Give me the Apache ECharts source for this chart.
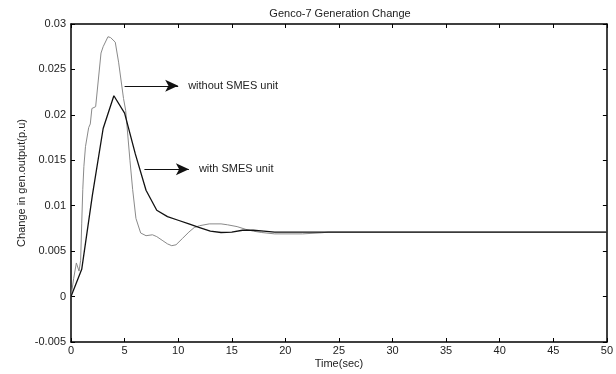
<!DOCTYPE html>
<html>
<head>
<meta charset="utf-8">
<script src="https://cdn.jsdelivr.net/npm/echarts@6/dist/echarts.min.js"></script>
<style>html,body{margin:0;padding:0;background:#fff}#c{width:616px;height:374px}</style>
</head>
<body>
<div id="c"></div>
<script>
var titleText = 'Genco-7 Generation Change';
var xName = 'Time(sec)';
var yName = 'Change in gen.output(p.u)';
var xTicks = [0, 5, 10, 15, 20, 25, 30, 35, 40, 45, 50];
var yTicks = [-0.005, 0, 0.005, 0.01, 0.015, 0.02, 0.025, 0.03];

// without SMES unit (gray)
var grayT = [0, 0.25, 0.5, 0.6, 0.75, 0.9, 1.0, 1.1, 1.2, 1.35, 1.65, 1.8, 1.95, 2.3, 2.8, 3.0, 3.45, 3.7, 4.13, 4.44, 4.9, 5.1, 5.5, 5.75, 6.06, 6.5, 7.0, 7.6, 8.0, 8.5, 9.0, 9.4, 9.8, 10.4, 11.0, 11.5, 12.0, 12.9, 14.0, 14.6, 15.5, 16.3, 17.0, 17.8, 19.0, 21.6, 23.4, 24, 50];
var grayY = [0, 0.002, 0.0037, 0.0035, 0.0028, 0.0040, 0.0080, 0.0118, 0.0143, 0.0165, 0.0186, 0.0190, 0.0207, 0.0209, 0.0268, 0.0275, 0.0286, 0.0285, 0.0280, 0.0258, 0.0218, 0.0205, 0.0150, 0.0118, 0.0086, 0.0070, 0.0067, 0.0068, 0.0066, 0.0062, 0.0058, 0.0056, 0.0057, 0.0064, 0.0071, 0.0076, 0.0078, 0.0080, 0.0080, 0.0079, 0.0077, 0.0074, 0.0072, 0.00705, 0.0069, 0.0069, 0.00702, 0.0071, 0.0071];

// with SMES unit (black)
var blackT = [0, 1, 2, 3, 4, 5, 6, 7, 8, 9, 10, 11, 12, 13, 14, 15, 16, 17, 18, 19, 20, 25, 30, 35, 40, 45, 50];
var blackY = [0, 0.0030, 0.0112, 0.0185, 0.0221, 0.0202, 0.0157, 0.0117, 0.0095, 0.0088, 0.0084, 0.0080, 0.0076, 0.0072, 0.00705, 0.0071, 0.0073, 0.0073, 0.0072, 0.0071, 0.0071, 0.0071, 0.0071, 0.0071, 0.0071, 0.0071, 0.0071];

// annotations
var annoText = ['without SMES unit', 'with SMES unit'];
var annoFrom = [[5.0, 0.0232], [6.85, 0.0140]];
var annoTo = [[10.0, 0.0232], [11.0, 0.0140]];

function zip(a, b) { return a.map(function (v, i) { return [v, b[i]]; }); }

var font = 'Liberation Sans, Arial, sans-serif';
var chart = echarts.init(document.getElementById('c'), null, { renderer: 'canvas' });

var tickStyle = { show: true, inside: true, length: 4, lineStyle: { color: '#000', width: 1 } };
var lineStyleAxis = { show: true, onZero: false, lineStyle: { color: '#000', width: 1.5 } };

var option = {
  animation: false,
  backgroundColor: '#fff',
  title: {
    text: titleText, left: 340, top: 8, textAlign: 'center', padding: 0,
    textStyle: { fontFamily: font, fontSize: 11, fontWeight: 'normal', color: '#222' }
  },
  grid: { left: 71, right: 7.2, top: 24, bottom: 24, containLabel: false },
  xAxis: [{
    type: 'value', min: 0, max: 50, interval: 5, position: 'bottom',
    name: xName, nameLocation: 'middle', nameGap: 16, nameMoveOverlap: false,
    nameTextStyle: { fontFamily: font, fontSize: 11, color: '#222', verticalAlign: 'top' },
    axisLine: lineStyleAxis, axisTick: tickStyle, splitLine: { show: false },
    axisLabel: { fontFamily: font, fontSize: 11, color: '#222', margin: 3 }
  }, {
    type: 'value', min: 0, max: 50, interval: 5, position: 'top',
    axisLine: lineStyleAxis, axisTick: tickStyle, splitLine: { show: false },
    axisLabel: { show: false }
  }],
  yAxis: [{
    type: 'value', min: -0.005, max: 0.03, interval: 0.005, position: 'left',
    name: yName, nameLocation: 'middle', nameGap: 44, nameRotate: 90, nameMoveOverlap: false,
    nameTextStyle: { fontFamily: font, fontSize: 11, color: '#222' },
    axisLine: lineStyleAxis, axisTick: tickStyle, splitLine: { show: false },
    axisLabel: { fontFamily: font, fontSize: 11, color: '#222', margin: 5,
      formatter: function (v) { return String(Math.round(v * 1000) / 1000); } }
  }, {
    type: 'value', min: -0.005, max: 0.03, interval: 0.005, position: 'right',
    axisLine: lineStyleAxis, axisTick: tickStyle, splitLine: { show: false },
    axisLabel: { show: false }
  }],
  series: [{
    name: 'without SMES unit', type: 'line', data: zip(grayT, grayY),
    showSymbol: false, symbol: 'none', smooth: false,
    lineStyle: { color: '#8a8a8a', width: 1 }, z: 2
  }, {
    name: 'with SMES unit', type: 'line', data: zip(blackT, blackY),
    showSymbol: false, symbol: 'none', smooth: false,
    lineStyle: { color: '#111', width: 1.3 }, z: 3,
    markLine: {
      silent: true, symbol: ['none', 'arrow'], symbolSize: [9, 13],
      lineStyle: { color: '#111', width: 1, type: 'solid' },
      label: { show: false },
      data: annoFrom.map(function (f, i) { return [{ coord: f }, { coord: annoTo[i] }]; })
    },
    markPoint: {
      silent: true, symbol: 'circle', symbolSize: 0,
      label: { show: true, position: 'right', distance: 10, fontFamily: font, fontSize: 11, color: '#222',
        formatter: function (p) { return p.name; } },
      data: annoTo.map(function (t, i) { return { coord: t, name: annoText[i] }; })
    }
  }]
};
chart.setOption(option);
</script>
</body>
</html>
